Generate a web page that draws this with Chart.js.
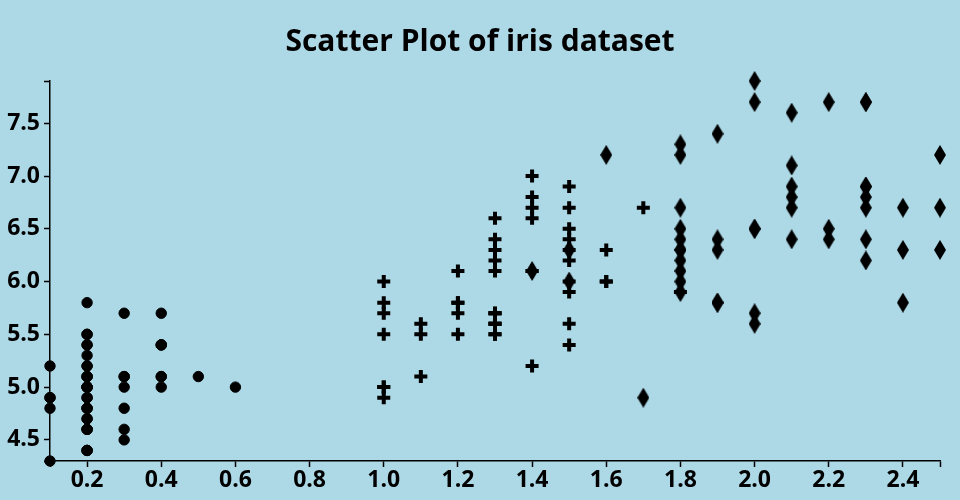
<!DOCTYPE html>
<html lang="en">
<head>
  <meta charset="UTF-8">
  <title>Scatter Plot of iris dataset</title>
  <script src="https://cdn.jsdelivr.net/npm/chart.js"></script>
  <style>
    body {
      margin: 0;
      background-color: #add8e6;
    }
    canvas {
      display: block;
      background-color: #add8e6;
    }
  </style>
</head>
<body>

<canvas id="chartIris" width="960" height="500"></canvas>

<script>
  // petal width (x) / sepal length (y), one pair of arrays per species
  const setosaPetalWidth = [0.2,0.2,0.2,0.2,0.2,0.4,0.3,0.2,0.2,0.1,0.2,0.2,0.1,0.1,0.2,0.4,0.4,0.3,0.3,0.3,
    0.2,0.4,0.2,0.5,0.2,0.2,0.4,0.2,0.2,0.2,0.2,0.4,0.1,0.2,0.2,0.2,0.2,0.1,0.2,0.2,
    0.3,0.3,0.2,0.6,0.4,0.3,0.2,0.2,0.2,0.2];
  const setosaSepalLength = [5.1,4.9,4.7,4.6,5.0,5.4,4.6,5.0,4.4,4.9,5.4,4.8,4.8,4.3,5.8,5.7,5.4,5.1,5.7,5.1,
    5.4,5.1,4.6,5.1,4.8,5.0,5.0,5.2,5.2,4.7,4.8,5.4,5.2,5.5,4.9,5.0,5.5,4.9,4.4,5.1,
    5.0,4.5,4.4,5.0,5.1,4.8,5.1,4.6,5.3,5.0];

  const versicolorPetalWidth = [1.4,1.5,1.5,1.3,1.5,1.3,1.6,1.0,1.3,1.4,1.0,1.5,1.0,1.4,1.3,1.4,1.5,1.0,1.5,1.1,
    1.8,1.3,1.5,1.2,1.3,1.4,1.4,1.7,1.5,1.0,1.1,1.0,1.2,1.6,1.5,1.6,1.5,1.3,1.3,1.3,
    1.2,1.4,1.2,1.0,1.3,1.2,1.3,1.3,1.1,1.3];
  const versicolorSepalLength = [7.0,6.4,6.9,5.5,6.5,5.7,6.3,4.9,6.6,5.2,5.0,5.9,6.0,6.1,5.6,6.7,5.6,5.8,6.2,5.6,
    5.9,6.1,6.3,6.1,6.4,6.6,6.8,6.7,6.0,5.7,5.5,5.5,5.8,6.0,5.4,6.0,6.7,6.3,5.6,5.5,
    5.5,6.1,5.8,5.0,5.6,5.7,5.7,6.2,5.1,5.7];

  const virginicaPetalWidth = [2.5,1.9,2.1,1.8,2.2,2.1,1.7,1.8,1.8,2.5,2.0,1.9,2.1,2.0,2.4,2.3,1.8,2.2,2.3,1.5,
    2.3,2.0,2.0,1.8,2.1,1.8,1.8,1.8,2.1,1.6,1.9,2.0,2.2,1.5,1.4,2.3,2.4,1.8,1.8,2.1,
    2.4,2.3,1.9,2.3,2.5,2.3,1.9,2.0,2.3,1.8];
  const virginicaSepalLength = [6.3,5.8,7.1,6.3,6.5,7.6,4.9,7.3,6.7,7.2,6.5,6.4,6.8,5.7,5.8,6.4,6.5,7.7,7.7,6.0,
    6.9,5.6,7.7,6.3,6.7,7.2,6.2,6.1,6.4,7.2,7.4,7.9,6.4,6.3,6.1,7.7,6.3,6.4,6.0,6.9,
    6.7,6.9,5.8,6.8,6.7,6.7,6.3,6.5,6.2,5.9];

  const xTicks = [0.1,0.2,0.4,0.6,0.8,1.0,1.2,1.4,1.6,1.8,2.0,2.2,2.4,2.5];
  const yTicks = [4.3,4.5,5.0,5.5,6.0,6.5,7.0,7.5,7.9];
  const xEnds = [0.1, 2.5];
  const yEnds = [4.3, 7.9];

  const toPoints = (xs, ys) => xs.map((x, i) => ({ x: x, y: ys[i] }));

  // tall diamond marker
  const diamond = document.createElement('canvas');
  diamond.width = 12;
  diamond.height = 20;
  const dctx = diamond.getContext('2d');
  dctx.fillStyle = '#000';
  dctx.beginPath();
  dctx.moveTo(6, 0);
  dctx.lineTo(12, 10);
  dctx.lineTo(6, 20);
  dctx.lineTo(0, 10);
  dctx.closePath();
  dctx.fill();

  const tickFont = { family: "'Open Sans', sans-serif", size: 23, weight: 'bold' };

  new Chart(document.getElementById('chartIris'), {
    type: 'scatter',
    data: {
      datasets: [
        {
          label: 'setosa',
          data: toPoints(setosaPetalWidth, setosaSepalLength),
          pointStyle: 'circle',
          pointRadius: 5.2,
          backgroundColor: '#000',
          borderColor: '#000',
          borderWidth: 1,
          clip: false
        },
        {
          label: 'versicolor',
          data: toPoints(versicolorPetalWidth, versicolorSepalLength),
          pointStyle: 'cross',
          pointRadius: 6.5,
          backgroundColor: '#000',
          borderColor: '#000',
          borderWidth: 4,
          clip: false
        },
        {
          label: 'virginica',
          data: toPoints(virginicaPetalWidth, virginicaSepalLength),
          pointStyle: diamond,
          backgroundColor: '#000',
          borderColor: '#000',
          clip: false
        }
      ]
    },
    options: {
      responsive: false,
      animation: false,
      events: [],
      layout: { padding: 0 },
      plugins: {
        legend: { display: false },
        tooltip: { enabled: false },
        title: {
          display: true,
          text: 'Scatter Plot of iris dataset',
          color: '#000',
          font: { family: "'Open Sans', sans-serif", size: 30, weight: 'bold' },
          padding: { top: 24, bottom: 21 }
        }
      },
      scales: {
        x: {
          type: 'linear',
          min: 0.1,
          max: 2.5,
          afterBuildTicks: s => { s.ticks = xTicks.map(v => ({ value: v })); },
          afterFit: s => { s.height = 39; },
          border: { color: '#000', width: 1.5 },
          grid: { drawOnChartArea: false, color: '#000', tickLength: 6, tickWidth: 1.5 },
          ticks: {
            color: '#000',
            font: tickFont,
            padding: 0,
            maxRotation: 0,
            autoSkip: false,
            callback: v => xEnds.includes(v) ? '' : v.toFixed(1)
          }
        },
        y: {
          type: 'linear',
          min: 4.3,
          max: 7.9,
          afterBuildTicks: s => { s.ticks = yTicks.map(v => ({ value: v })); },
          afterFit: s => { s.width = 50; },
          border: { color: '#000', width: 1.5 },
          grid: { drawOnChartArea: false, color: '#000', tickLength: 6, tickWidth: 1.5 },
          ticks: {
            color: '#000',
            font: tickFont,
            padding: 4,
            autoSkip: false,
            callback: v => yEnds.includes(v) ? '' : v.toFixed(1)
          }
        },
        // empty right margin so the title stays centred on the page
        margin: {
          type: 'linear',
          position: 'right',
          afterFit: s => { s.width = 20; },
          border: { display: false },
          grid: { display: false },
          ticks: { display: false }
        }
      }
    }
  });
</script>

</body>
</html>
